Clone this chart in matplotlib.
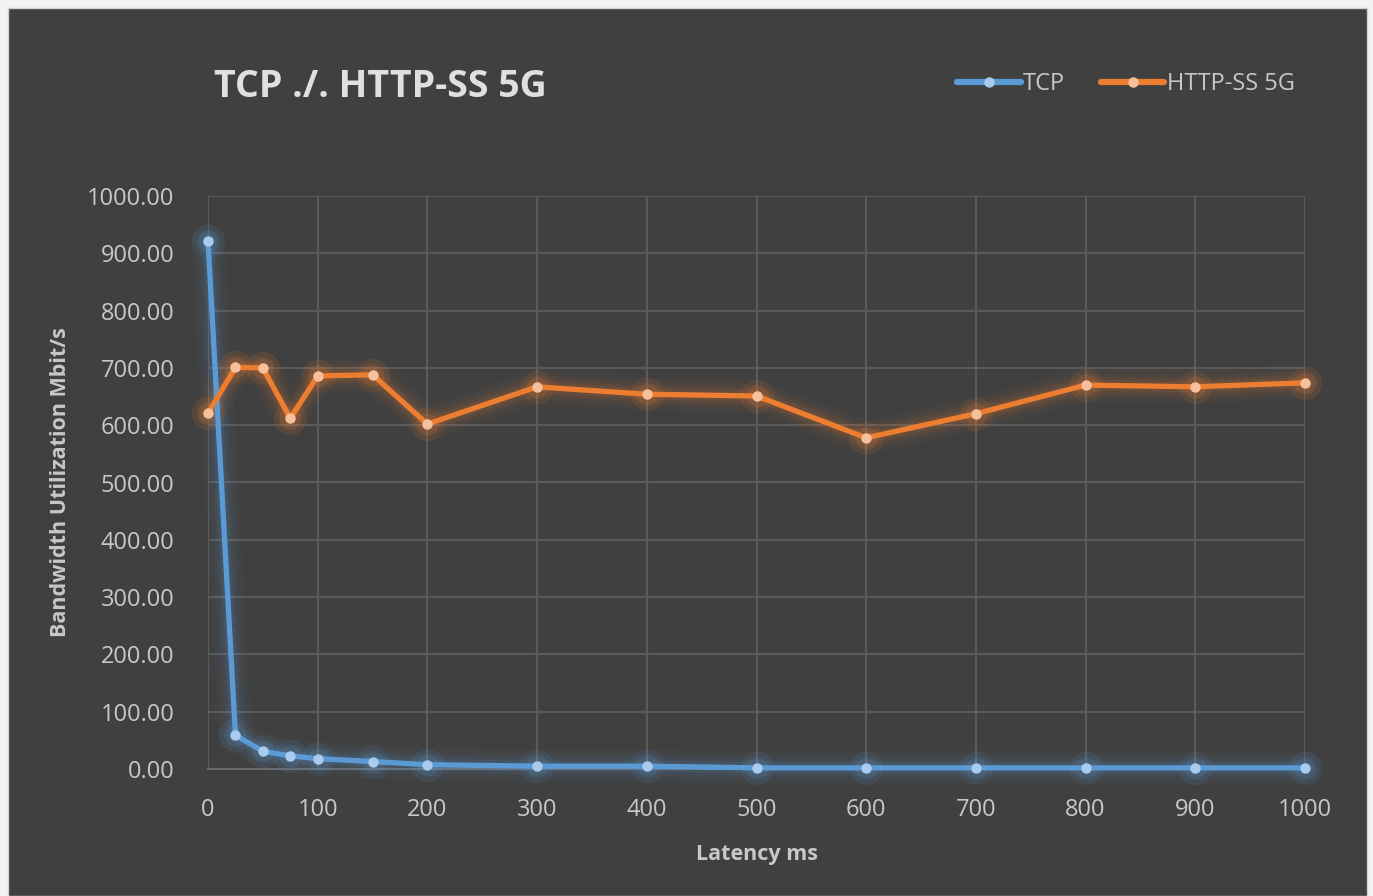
import matplotlib
matplotlib.use('Agg')
import matplotlib.pyplot as plt
from matplotlib.patches import Rectangle
from matplotlib.lines import Line2D

# latency (ms) and bandwidth utilization (Mbit/s)
latency = [0, 25, 50, 75, 100, 150, 200, 300, 400, 500, 600, 700, 800, 900, 1000]
tcp = [922, 59, 31, 23, 18, 13, 7.5, 5, 5, 2, 2, 2, 2, 2, 2]
http_ss = [621, 701, 700, 612, 686, 688, 602, 667, 654, 651, 578, 620, 670, 667, 674]

x_ticks = [0, 100, 200, 300, 400, 500, 600, 700, 800, 900, 1000]
y_ticks = [0, 100, 200, 300, 400, 500, 600, 700, 800, 900, 1000]

bg = '#404040'
text_col = '#c8c8c8'
title_col = '#e0e0e0'
blue, blue_mk = '#5b9bd5', '#a9cbee'
orange, orange_mk = '#ed7d31', '#f6c09c'

plt.rcParams['font.family'] = ['Open Sans', 'DejaVu Sans']

fig = plt.figure(figsize=(13.73, 8.96), dpi=100)
fig.patch.set_facecolor('#f2f2f2')
fig.patches.append(Rectangle((8 / 1373, 0), 1359 / 1373, 888 / 896,
                             transform=fig.transFigure, facecolor=bg,
                             edgecolor='#d0d0d0', linewidth=1, zorder=-10))

ax = fig.add_axes([208 / 1373, 127 / 896, 1097 / 1373, 573 / 896])
ax.set_facecolor(bg)

def glow_line(x, y, col, mk_col, label):
    # soft glow under the line, then the line with small markers
    for w, a in [(24, 0.04), (17, 0.05), (12, 0.07), (8, 0.10)]:
        ax.plot(x, y, color=col, linewidth=w, alpha=a, solid_capstyle='round',
                solid_joinstyle='round', zorder=3, clip_on=False)
    for ms, a in [(24, 0.10), (16, 0.15)]:
        ax.plot(x, y, linestyle='none', marker='o', markersize=ms, color=col,
                alpha=a, markeredgewidth=0, zorder=3, clip_on=False)
    ax.plot(x, y, color=col, linewidth=3.8, marker='o', markersize=6.5,
            markerfacecolor=mk_col, markeredgecolor=mk_col,
            solid_joinstyle='round', label=label, zorder=4, clip_on=False)

glow_line(latency, tcp, blue, blue_mk, 'TCP')
glow_line(latency, http_ss, orange, orange_mk, 'HTTP-SS 5G')

ax.set_xlim(0, 1000)
ax.set_ylim(0, 1000)
ax.set_xticks(x_ticks)
ax.set_yticks(y_ticks)
ax.set_yticklabels(['%.2f' % v for v in y_ticks])
ax.grid(True, color='#5a5a5a', linewidth=1.5)
ax.set_axisbelow(True)
for s in ['top', 'right', 'left']:
    ax.spines[s].set_visible(False)
ax.spines['bottom'].set_color('#6a6a6a')
ax.spines['bottom'].set_linewidth(1.5)
ax.tick_params(axis='both', length=0, labelcolor=text_col, labelsize=17)
ax.tick_params(axis='x', pad=21)
ax.tick_params(axis='y', pad=24)

ax.set_xlabel('Latency ms', color=text_col, fontsize=15.5, fontweight='bold', labelpad=16)
ax.set_ylabel('Bandwidth Utilization Mbit/s', color=text_col, fontsize=15.5,
              fontweight='bold', labelpad=12)

fig.text(214 / 1373, 1 - 87 / 896, 'TCP ./. HTTP-SS 5G', color=title_col,
         fontsize=27, fontweight='bold', va='center', ha='left')

handles = [Line2D([], [], color=blue, linewidth=4.5, marker='o', markersize=6.5,
                  markerfacecolor=blue_mk, markeredgecolor=blue_mk,
                  solid_capstyle='round'),
           Line2D([], [], color=orange, linewidth=4.5, marker='o', markersize=6.5,
                  markerfacecolor=orange_mk, markeredgecolor=orange_mk,
                  solid_capstyle='round')]
leg = fig.legend(handles, ['TCP', 'HTTP-SS 5G'], loc='center right',
                 bbox_to_anchor=(1316 / 1373, 1 - 84 / 896), ncol=2, frameon=False,
                 fontsize=17, handlelength=2.7, handletextpad=0.1, columnspacing=1.5)
for t in leg.get_texts():
    t.set_color(text_col)

fig.savefig('out.png', dpi=100, facecolor=fig.get_facecolor())
